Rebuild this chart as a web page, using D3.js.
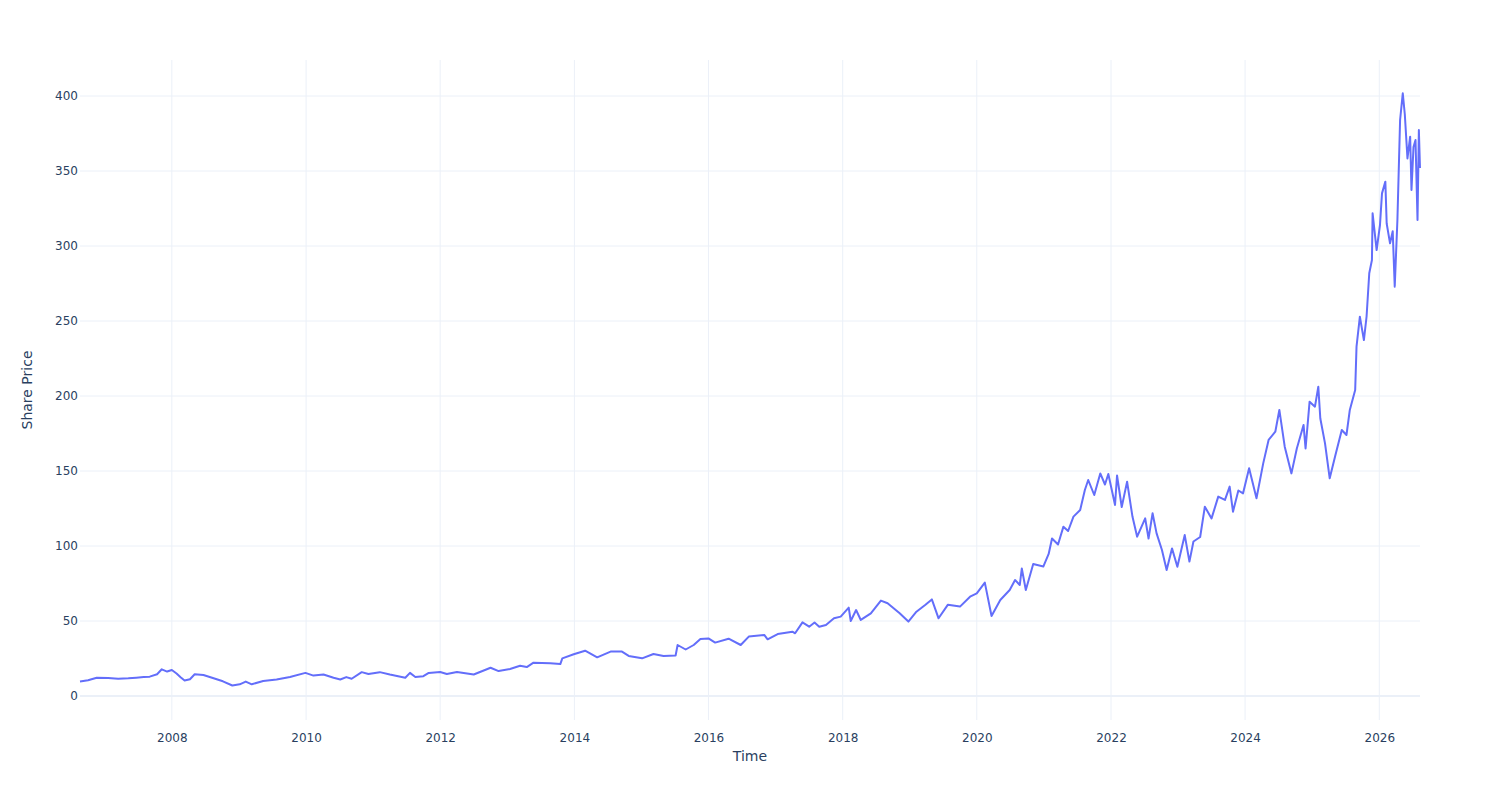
<!DOCTYPE html>
<html>
<head>
<meta charset="utf-8">
<script src="https://cdn.jsdelivr.net/npm/d3@7"></script>
<style>
  body { margin: 0; background: #fff; }
  svg text { font-family: "DejaVu Sans", verdana, arial, sans-serif; fill: #2a3f5f; }
</style>
</head>
<body>
<div id="chart"></div>
<script>
// decimal year of each reading
const times = [
  2006.63, 2006.75, 2006.88, 2007.05, 2007.2, 2007.35, 2007.47, 2007.58, 2007.67, 2007.78,
  2007.85, 2007.93, 2008.0, 2008.07, 2008.13, 2008.19, 2008.27, 2008.34, 2008.47, 2008.61,
  2008.76, 2008.9, 2009.01, 2009.1, 2009.19, 2009.36, 2009.56, 2009.76, 2009.99, 2010.11,
  2010.26, 2010.41, 2010.51, 2010.6, 2010.68, 2010.83, 2010.93, 2011.1, 2011.25, 2011.48,
  2011.55, 2011.63, 2011.75, 2011.83, 2012.0, 2012.1, 2012.25, 2012.5, 2012.75, 2012.87,
  2013.04, 2013.19, 2013.29, 2013.39, 2013.64, 2013.79, 2013.82, 2013.99, 2014.16, 2014.34,
  2014.54, 2014.71, 2014.81, 2015.01, 2015.18, 2015.33, 2015.51, 2015.54, 2015.66, 2015.78,
  2015.88, 2016.0, 2016.1, 2016.3, 2016.48, 2016.6, 2016.83, 2016.88, 2017.03, 2017.25,
  2017.29, 2017.4, 2017.5, 2017.58, 2017.65, 2017.75, 2017.87, 2017.97, 2018.09, 2018.12,
  2018.2, 2018.27, 2018.42, 2018.57, 2018.67, 2018.85, 2018.98, 2019.1, 2019.23, 2019.33,
  2019.43, 2019.57, 2019.75, 2019.9, 2020.0, 2020.12, 2020.22, 2020.35, 2020.49, 2020.57,
  2020.64, 2020.67, 2020.73, 2020.84, 2020.99, 2021.07, 2021.12, 2021.21, 2021.29, 2021.36,
  2021.44, 2021.54, 2021.61, 2021.66, 2021.75, 2021.84, 2021.91, 2021.96, 2022.06, 2022.09,
  2022.16, 2022.24, 2022.32, 2022.39, 2022.51, 2022.56, 2022.62, 2022.68, 2022.76, 2022.83,
  2022.91, 2022.99, 2023.1, 2023.17, 2023.23, 2023.33, 2023.4, 2023.5, 2023.6, 2023.7,
  2023.77, 2023.82, 2023.9, 2023.97, 2024.06, 2024.17, 2024.27, 2024.35, 2024.45, 2024.51,
  2024.59, 2024.69, 2024.77, 2024.87, 2024.9, 2024.96, 2025.04, 2025.09, 2025.12, 2025.19,
  2025.26, 2025.34, 2025.44, 2025.51, 2025.56, 2025.64, 2025.66, 2025.71, 2025.77, 2025.81,
  2025.85, 2025.89, 2025.9, 2025.96, 2026.01, 2026.04, 2026.09, 2026.11, 2026.16, 2026.2,
  2026.23, 2026.27, 2026.31, 2026.35, 2026.38, 2026.42, 2026.46, 2026.48, 2026.51, 2026.54,
  2026.57, 2026.59, 2026.607
];

// share price at each reading
const prices = [
  9.6, 10.5, 12.2, 12.0, 11.5, 11.8, 12.2, 12.6, 12.9, 14.5,
  17.8, 16.3, 17.3, 15.0, 12.5, 10.3, 11.2, 14.5, 14.0, 12.0,
  9.8, 7.0, 7.8, 9.6, 7.8, 10.0, 11.0, 12.7, 15.4, 13.6,
  14.3, 12.2, 11.0, 12.6, 11.5, 15.9, 14.7, 15.9, 14.3, 12.2,
  15.4, 12.7, 13.2, 15.4, 16.0, 14.7, 16.0, 14.3, 18.8, 16.6,
  18.0, 20.2, 19.3, 22.2, 21.8, 21.3, 25.1, 27.8, 30.2, 25.8,
  29.6, 29.6, 26.7, 25.1, 28.0, 26.7, 27.0, 34.0, 31.0, 34.0,
  38.0, 38.4, 35.6, 38.2, 34.0, 39.6, 40.7, 37.8, 41.3, 42.9,
  41.8, 49.1, 46.2, 49.0, 46.2, 47.3, 51.8, 52.9, 58.9, 50.0,
  57.3, 50.7, 55.1, 63.6, 61.8, 55.1, 49.6, 56.2, 60.7, 64.4,
  51.8, 60.9, 59.6, 66.2, 68.4, 75.6, 53.3, 64.0, 70.7, 77.3,
  74.0, 85.0, 70.7, 88.0, 86.3, 94.7, 105.0, 101.0, 112.9, 110.0,
  119.6, 124.0, 137.3, 144.0, 134.0, 148.4, 141.0, 148.0, 127.3, 147.0,
  126.0, 142.9, 119.6, 106.2, 118.4, 105.0, 121.8, 108.4, 97.3, 84.0,
  98.4, 86.2, 107.3, 89.6, 103.0, 106.0, 126.2, 118.4, 132.9, 130.7,
  139.6, 122.9, 137.0, 135.1, 151.8, 131.8, 155.1, 170.7, 176.2, 190.7,
  166.2, 148.4, 165.0, 180.7, 165.0, 196.2, 192.9, 206.2, 185.0, 168.4,
  145.1, 159.6, 177.3, 174.0, 190.7, 204.0, 232.9, 252.9, 237.3, 253.0,
  281.8, 290.7, 321.8, 297.3, 314.0, 335.1, 342.9, 315.0, 301.8, 309.8,
  272.9, 317.3, 384.0, 401.8, 388.0, 358.4, 372.9, 337.3, 366.0, 370.7,
  317.3, 377.3, 352.0
];

const yTicks = [0, 50, 100, 150, 200, 250, 300, 350, 400];
const xTickYears = [2008, 2010, 2012, 2014, 2016, 2018, 2020, 2022, 2024, 2026];

// decimal year -> Date
function toDate(t) {
    let y = Math.floor(t);
    let start = new Date(y, 0, 1), end = new Date(y + 1, 0, 1);
    return new Date(+start + (t - y) * (end - start));
}

let data = times.map((t, i) => ({date: toDate(t), value: prices[i]}));

let margin = {top: 60, right: 80, bottom: 80, left: 80};
let width = 1500 - margin.left - margin.right,
    height = 800 - margin.top - margin.bottom;

let svg = d3.select("#chart").append("svg")
    .attr("width", 1500)
    .attr("height", 800);

let g = svg.append("g")
    .attr("transform", "translate(" + margin.left + "," + margin.top + ")");

// Scales
let x = d3.scaleTime()
    .domain(d3.extent(data, d => d.date))
    .range([0, width]);

let y = d3.scaleLinear()
    .domain([-16, 424])
    .range([height, 0]);

// Grid lines
g.append("g").selectAll("line.xgrid")
    .data(xTickYears)
    .enter().append("line")
    .attr("x1", d => x(new Date(d, 0, 1)))
    .attr("x2", d => x(new Date(d, 0, 1)))
    .attr("y1", 0)
    .attr("y2", height)
    .attr("stroke", "#EBF0F8")
    .attr("stroke-width", 1);

g.append("g").selectAll("line.ygrid")
    .data(yTicks)
    .enter().append("line")
    .attr("x1", 0)
    .attr("x2", width)
    .attr("y1", d => y(d))
    .attr("y2", d => y(d))
    .attr("stroke", "#EBF0F8")
    .attr("stroke-width", d => d === 0 ? 2 : 1);

// Axes (labels only, plotly style)
let xAxis = d3.axisBottom(x)
    .tickValues(xTickYears.map(d => new Date(d, 0, 1)))
    .tickFormat(d3.timeFormat("%Y"))
    .tickSize(0)
    .tickPadding(13);

let yAxis = d3.axisLeft(y)
    .tickValues(yTicks)
    .tickSize(0)
    .tickPadding(2);

g.append("g")
    .attr("class", "x-axis")
    .attr("transform", "translate(0," + height + ")")
    .call(xAxis)
    .call(a => a.select(".domain").remove())
    .selectAll("text")
    .attr("font-size", 12)
    .attr("font-family", null)
    .attr("fill", null);

g.append("g")
    .attr("class", "y-axis")
    .call(yAxis)
    .call(a => a.select(".domain").remove())
    .selectAll("text")
    .attr("font-size", 12)
    .attr("font-family", null)
    .attr("fill", null);

// Line
let line = d3.line()
    .x(d => x(d.date))
    .y(d => y(d.value));

g.append("path")
    .datum(data)
    .attr("d", line)
    .attr("fill", "none")
    .attr("stroke", "#636efa")
    .attr("stroke-width", 2)
    .attr("stroke-linejoin", "round");

// Axis titles
svg.append("text")
    .attr("x", margin.left + width / 2)
    .attr("y", 761)
    .attr("text-anchor", "middle")
    .attr("font-size", 14)
    .text("Time");

svg.append("text")
    .attr("transform", "translate(32," + (margin.top + height / 2) + ") rotate(-90)")
    .attr("text-anchor", "middle")
    .attr("font-size", 14)
    .text("Share Price");
</script>
</body>
</html>
